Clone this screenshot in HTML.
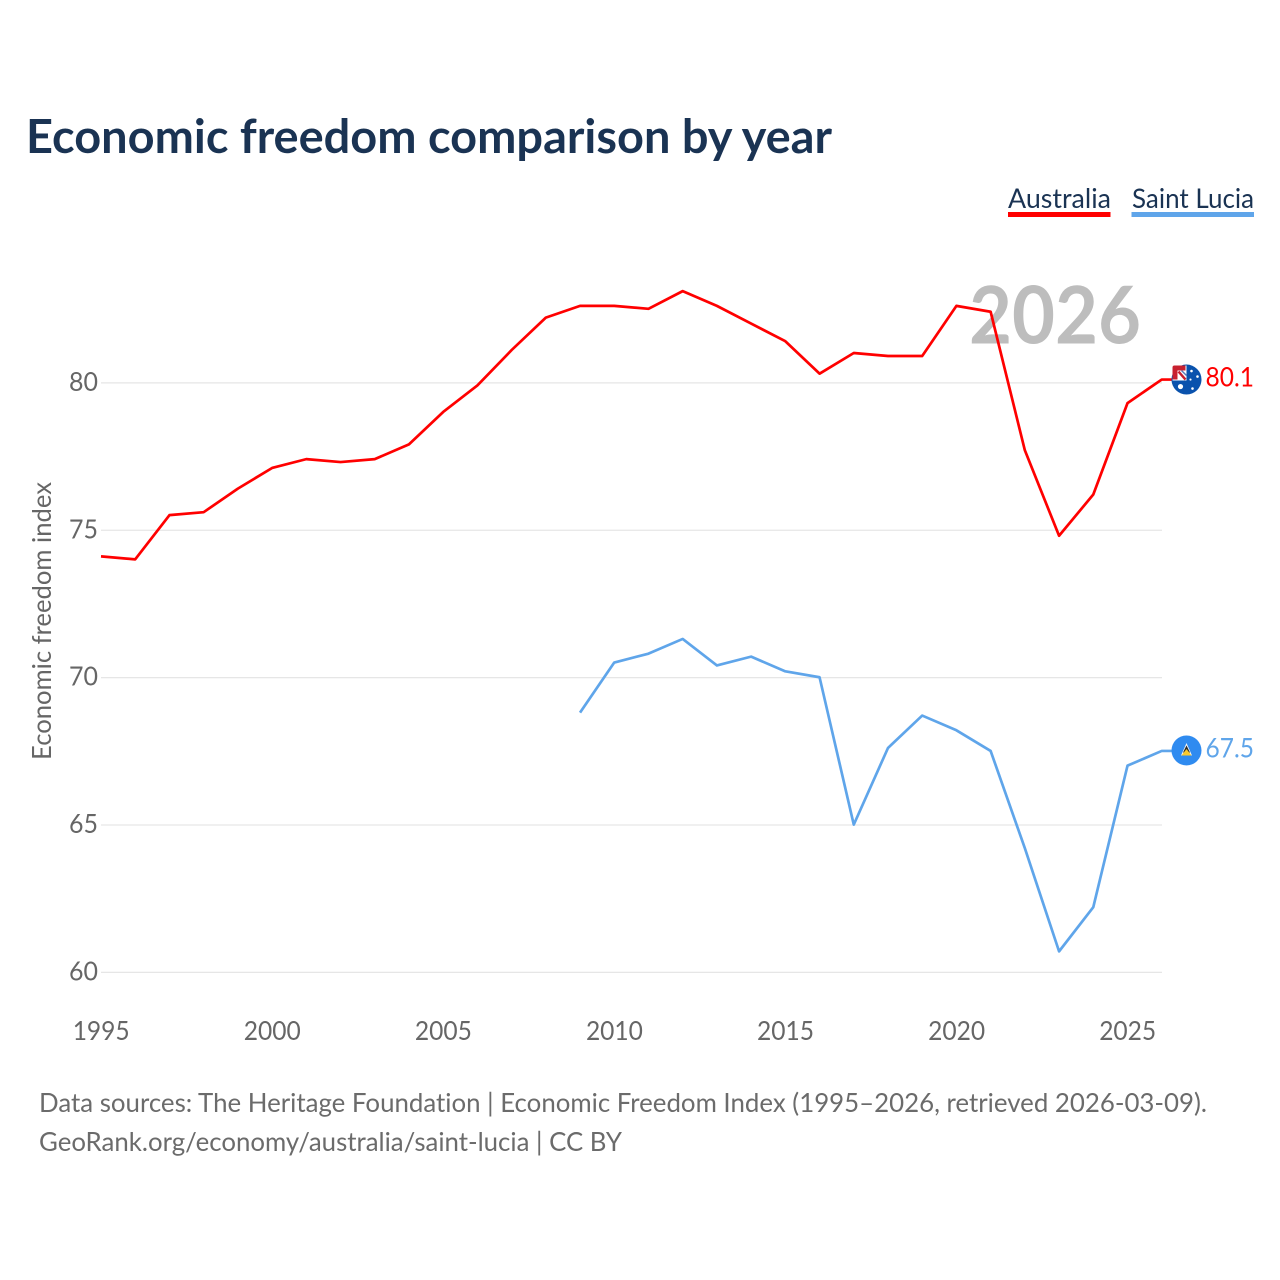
<!DOCTYPE html>
<html lang="en">
<head>
<meta charset="utf-8">
<title>Economic freedom comparison by year</title>
<style>
html,body{margin:0;padding:0;background:#fff;}
svg{display:block;}
text{font-family:"Lato","Carlito","Liberation Sans",sans-serif;font-variant-ligatures:none;}
</style>
</head>
<body>
<svg id="chart" xmlns="http://www.w3.org/2000/svg" width="1280" height="1280" viewBox="0 0 1280 1280">
  <rect width="1280" height="1280" fill="#ffffff"/>
  <text x="26" y="153" font-size="47" font-weight="700" fill="#1a3353" textLength="806" lengthAdjust="spacingAndGlyphs">Economic freedom comparison by year</text>

  <g>
    <text x="1008" y="208" font-size="27" fill="#1a3353" textLength="103" lengthAdjust="spacingAndGlyphs">Australia</text>
    <rect x="1008" y="212" width="102.500" height="5" fill="#ff0000"/>
  </g>
  <g>
    <text x="1132" y="208" font-size="27" fill="#1a3353" textLength="122" lengthAdjust="spacingAndGlyphs">Saint Lucia</text>
    <rect x="1131.500" y="212" width="122.500" height="5" fill="#5fa5ea"/>
  </g>

  <g id="grid"></g>
  <g id="yticks"></g>
  <g id="xticks"></g>

  <text transform="translate(51,760) rotate(-90)" font-size="26" fill="#666666" textLength="278" lengthAdjust="spacingAndGlyphs">Economic freedom index</text>

  <text x="969" y="343.500" font-size="80" font-weight="700" fill="#bdbdbd" textLength="172" lengthAdjust="spacingAndGlyphs">2026</text>

  <path id="line-au" fill="none" stroke="#ff0000" stroke-width="2.700" stroke-linejoin="round"/>
  <path id="line-lc" fill="none" stroke="#5fa5ea" stroke-width="2.700" stroke-linejoin="round"/>

  <defs>
    <clipPath id="flag-lc-clip"><circle cx="15" cy="15" r="15"/></clipPath>
  </defs>

  <g id="flag-au">
    <circle cx="15" cy="15" r="15" fill="#0a52ad"/>
    <path d="M1 3Q1 1 3 1H15V16H1Z" fill="#ffffff"/>
    <path d="M1 3Q1 1 3 1H14V6H6V15H1Z" fill="#c8202f"/>
    <path d="M7 7L14 15" stroke="#c8202f" stroke-width="2.400"/>
    <path d="M10 6L15 11" stroke="#5a78b8" stroke-width="1.400"/>
    <circle cx="9" cy="22" r="2.600" fill="#ffffff"/>
    <circle cx="20" cy="6.500" r="1.300" fill="#ffffff"/>
    <circle cx="26" cy="12" r="1.300" fill="#ffffff"/>
    <circle cx="19" cy="15" r="1.100" fill="#ffffff"/>
    <circle cx="21" cy="24" r="1.300" fill="#ffffff"/>
  </g>
  <g id="flag-lc">
    <g clip-path="url(#flag-lc-clip)">
      <rect width="30" height="30" fill="#2f8bf0"/>
      <path d="M15 7.500L20.500 20H9.500Z" fill="#f4f4f4"/>
      <path d="M15 10L18.500 17H11.500Z" fill="#2a2a2a"/>
      <path d="M15 13.500L20 20H10Z" fill="#f9c92e"/>
    </g>
  </g>

  <text id="value-au" x="1205.500" font-size="27" fill="#ff0000" textLength="48.500" lengthAdjust="spacingAndGlyphs"></text>
  <text id="value-lc" x="1205.500" font-size="27" fill="#5fa5ea" textLength="48.500" lengthAdjust="spacingAndGlyphs"></text>

  <text x="39" y="1112" font-size="26.500" fill="#6b6b6b" textLength="1168" lengthAdjust="spacingAndGlyphs">Data sources: The Heritage Foundation | Economic Freedom Index (1995–2026, retrieved 2026-03-09).</text>
  <text x="39" y="1151" font-size="26.500" fill="#6b6b6b" textLength="583" lengthAdjust="spacingAndGlyphs">GeoRank.org/economy/australia/saint-lucia | CC BY</text>
</svg>
<script>
const years = [1995,1996,1997,1998,1999,2000,2001,2002,2003,2004,2005,2006,2007,2008,2009,2010,2011,2012,2013,2014,2015,2016,2017,2018,2019,2020,2021,2022,2023,2024,2025,2026];
const australia = [74.1,74.0,75.5,75.6,76.4,77.1,77.4,77.3,77.4,77.9,79.0,79.9,81.1,82.2,82.6,82.6,82.5,83.1,82.6,82.0,81.4,80.3,81.0,80.9,80.9,82.6,82.4,77.7,74.8,76.2,79.3,80.1];
const saintLucia = [null,null,null,null,null,null,null,null,null,null,null,null,null,null,68.8,70.5,70.8,71.3,70.4,70.7,70.2,70.0,65.0,67.6,68.7,68.2,67.5,64.2,60.7,62.2,67.0,67.5];
const yTickValues = [60,65,70,75,80];
const xTickValues = [1995,2000,2005,2010,2015,2020,2025];

const NS = 'http://www.w3.org/2000/svg';
function xScale(year){ return 101 + (year - 1995) * (1026.5 / 30); }
function yScale(value){ return 972 - (value - 60) * (589.5 / 20); }

function linePath(series){
  let d = '';
  let pen = false;
  series.forEach(function(v, i){
    if (v === null) { pen = false; return; }
    d += (pen ? 'L' : 'M') + xScale(years[i]).toFixed(2) + ' ' + yScale(v).toFixed(2);
    pen = true;
  });
  return d + 'H1172';
}
function lastValue(series){ return series[series.length - 1]; }

document.getElementById('line-au').setAttribute('d', linePath(australia));
document.getElementById('line-lc').setAttribute('d', linePath(saintLucia));

const grid = document.getElementById('grid');
const yticks = document.getElementById('yticks');
yTickValues.forEach(function(v){
  const y = yScale(v) + 0.4;
  const gl = document.createElementNS(NS, 'line');
  
  
  gl.setAttribute('x1', 101);
  gl.setAttribute('x2', 1162);
  gl.setAttribute('y1', y);
  gl.setAttribute('y2', y);
  gl.setAttribute('stroke', '#e6e6e6');
  gl.setAttribute('stroke-width', '1.200');
  grid.appendChild(gl);
  const t = document.createElementNS(NS, 'text');
  
  
  t.setAttribute('x', 98);
  t.setAttribute('y', y + 8);
  t.setAttribute('text-anchor', 'end');
  t.setAttribute('font-size', '26');
  t.setAttribute('fill', '#666666');
  t.setAttribute('textLength', '29');
  t.setAttribute('lengthAdjust', 'spacingAndGlyphs');
  t.textContent = String(v);
  yticks.appendChild(t);
});

const xticks = document.getElementById('xticks');
xTickValues.forEach(function(v){
  const t = document.createElementNS(NS, 'text');
  
  
  t.setAttribute('x', xScale(v) + 0.2);
  t.setAttribute('y', 1040);
  t.setAttribute('text-anchor', 'middle');
  t.setAttribute('font-size', '26');
  t.setAttribute('fill', '#666666');
  t.setAttribute('textLength', '57');
  t.setAttribute('lengthAdjust', 'spacingAndGlyphs');
  t.textContent = String(v);
  xticks.appendChild(t);
});

const auY = yScale(lastValue(australia));
const lcY = yScale(lastValue(saintLucia));
document.getElementById('flag-au').setAttribute('transform', 'translate(1171.500,' + (auY - 15).toFixed(2) + ')');
document.getElementById('flag-lc').setAttribute('transform', 'translate(1171.500,' + (lcY - 15.5).toFixed(2) + ')');
const valAu = document.getElementById('value-au');
valAu.setAttribute('y', (auY + 7).toFixed(2));
valAu.textContent = lastValue(australia).toFixed(1);
const valLc = document.getElementById('value-lc');
valLc.setAttribute('y', (lcY + 6.5).toFixed(2));
valLc.textContent = lastValue(saintLucia).toFixed(1);
</script>
</body>
</html>
